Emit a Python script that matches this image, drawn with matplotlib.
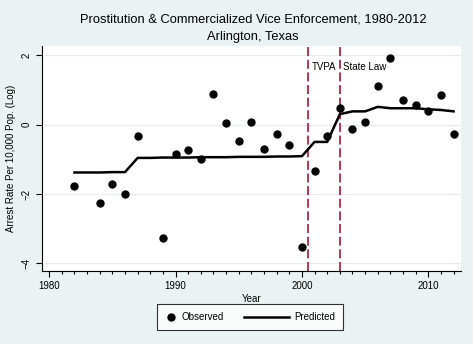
import matplotlib
matplotlib.use("Agg")
import matplotlib.pyplot as plt
from matplotlib.ticker import MultipleLocator
from matplotlib.legend_handler import HandlerLine2D

plt.rcParams["font.family"] = ["Liberation Sans", "DejaVu Sans"]

# observed (log arrest rate per 10,000 pop.)
obs_years = [1982, 1984, 1985, 1986, 1987, 1989, 1990, 1991, 1992, 1993, 1994,
             1995, 1996, 1997, 1998, 1999, 2000, 2001, 2002, 2003, 2004, 2005,
             2006, 2007, 2008, 2009, 2010, 2011, 2012]
obs_vals = [-1.77, -2.27, -1.70, -2.01, -0.33, -3.27, -0.86, -0.72, -1.00, 0.88, 0.05,
            -0.47, 0.08, -0.71, -0.28, -0.60, -3.53, -1.33, -0.33, 0.47, -0.12, 0.08,
            1.11, 1.93, 0.70, 0.55, 0.38, 0.86, -0.27]

# predicted
pred_years = list(range(1982, 2013))
pred_vals = [-1.38, -1.38, -1.38, -1.37, -1.37, -0.96, -0.96, -0.95, -0.95, -0.95,
             -0.94, -0.94, -0.94, -0.93, -0.93, -0.93, -0.92, -0.92, -0.91,
             -0.50, -0.50, 0.30, 0.38, 0.38, 0.51, 0.47, 0.47, 0.47, 0.44, 0.42, 0.38]

events = [2000.5, 2003.0]
event_labels = ["TVPA", "State Law"]


class LongKey(HandlerLine2D):
    # stata legend: short key for the dot, long key for the line -> stretch line leftwards
    def __init__(self, extra, **kw):
        super().__init__(**kw)
        self.extra = extra

    def create_artists(self, legend, orig_handle, xdescent, ydescent, width, height,
                       fontsize, trans):
        arts = super().create_artists(legend, orig_handle, xdescent, ydescent,
                                      width, height, fontsize, trans)
        for a in arts:
            y = a.get_ydata()[0]
            a.set_data([-xdescent - self.extra * fontsize, -xdescent + width], [y, y])
        return arts


bg = "#eaf2f3"
fig = plt.figure(figsize=(4.73, 3.44), dpi=100, facecolor=bg)
ax = fig.add_axes([0.088, 0.212, 0.887, 0.654])
ax.set_facecolor("white")

ax.plot(obs_years, obs_vals, "o", color="black", ms=5, label="Observed", zorder=3)
pred_line, = ax.plot(pred_years, pred_vals, "-", color="black", lw=1.8, label="Predicted", zorder=3)
for x, lab in zip(events, event_labels):
    ax.axvline(x, color="#b0284a", ls=(0, (5, 2)), lw=1.3, zorder=2)
    ax.text(x + 0.25, 1.65, lab, fontsize=7, va="center", ha="left")

ax.set_xlim(1979.4, 2012.6)
ax.set_ylim(-4.22, 2.26)
ax.set_xticks([1980, 1990, 2000, 2010])
ax.xaxis.set_minor_locator(MultipleLocator(1))
ax.set_yticks([-4, -2, 0, 2])
ax.tick_params(labelsize=7, length=4, width=0.8)
ax.tick_params(which="minor", length=2.5, width=0.8)
for lbl in ax.get_yticklabels():
    lbl.set_rotation(90)
    lbl.set_va("center")
ax.grid(axis="y", color="#e6ecec", lw=0.9)
ax.set_axisbelow(True)
for s in ["top", "right"]:
    ax.spines[s].set_visible(False)

ax.set_xlabel("Year", fontsize=7, labelpad=2)
ax.set_ylabel("Arrest Rate Per 10,000 Pop. (Log)", fontsize=7, labelpad=4)

fig.text(0.535, 0.942, "Prostitution & Commercialized Vice Enforcement, 1980-2012",
         ha="center", va="center", fontsize=9.3)
fig.text(0.535, 0.892, "Arlington, Texas", ha="center", va="center", fontsize=9.3)

leg = fig.legend(loc="center", bbox_to_anchor=(0.529, 0.078), ncol=2, fontsize=7,
                 frameon=True, fancybox=False, edgecolor="black", handlelength=1.2,
                 handletextpad=0.55, columnspacing=5.5, borderpad=0.8, borderaxespad=0,
                 numpoints=1, handler_map={pred_line: LongKey(3.5)})
leg.get_frame().set_linewidth(0.8)

fig.savefig("out.png", dpi=100, facecolor=bg)
